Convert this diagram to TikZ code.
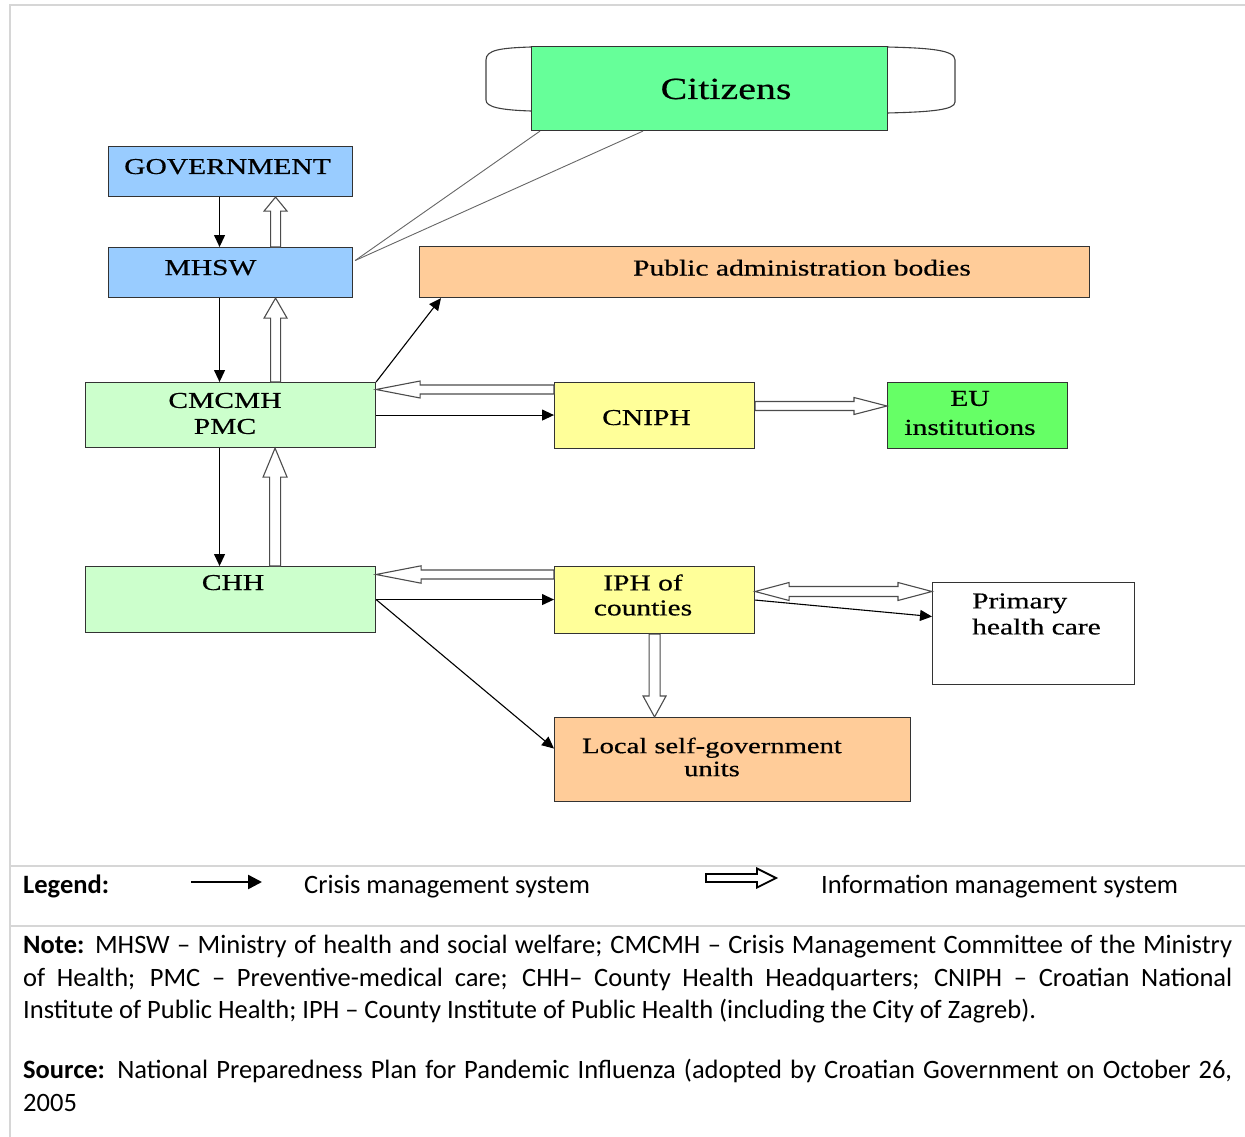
\documentclass[tikz,border=0pt]{standalone}
\usepackage{fontspec}
\usetikzlibrary{calc,arrows.meta}
\newfontfamily\dfont[FakeStretch=1.3,FakeBold=0.5]{Liberation Serif}
\newfontfamily\calfont{Carlito}
\definecolor{cBlue}{HTML}{99CCFF}
\definecolor{cPeach}{HTML}{FFCC99}
\definecolor{cMint}{HTML}{CCFFCC}
\definecolor{cYellow}{HTML}{FFFF99}
\definecolor{cGreen}{HTML}{66FF66}
\definecolor{cCit}{HTML}{66FF99}
\definecolor{frameGray}{HTML}{D6D6D6}
% hollow arrow: [style] start, end, shaft half width, head half width, head length
\newcommand\hollowarr[6][hollow]{%
  \coordinate (has) at #2;
  \coordinate (hae) at #3;
  \coordinate (hah) at ($(hae)!#6!(has)$);
  \draw[#1] ($(has)!#4!90:(hae)$) -- ($(hah)!#4!-90:(has)$) -- ($(hah)!#5!-90:(has)$)
    -- (hae) -- ($(hah)!#5!90:(has)$) -- ($(hah)!#4!90:(has)$) -- ($(has)!#4!-90:(hae)$) -- cycle;
}
\newcommand\hollowdbl[5]{%
  \coordinate (hds) at #1;
  \coordinate (hde) at #2;
  \coordinate (hd1) at ($(hds)!#5!(hde)$);
  \coordinate (hd2) at ($(hde)!#5!(hds)$);
  \draw[hollow] (hds) -- ($(hd1)!#4!90:(hde)$) -- ($(hd1)!#3!90:(hde)$) -- ($(hd2)!#3!-90:(hds)$)
    -- ($(hd2)!#4!-90:(hds)$) -- (hde) -- ($(hd2)!#4!90:(hds)$) -- ($(hd2)!#3!90:(hds)$)
    -- ($(hd1)!#3!-90:(hde)$) -- ($(hd1)!#4!-90:(hde)$) -- cycle;
}
\begin{document}
\begin{tikzpicture}[x=1pt,y=-1pt,
  box/.style={draw=black!80, line width=1.1pt, inner sep=0pt, anchor=north west},
  dtext/.style={font=\dfont\fontsize{22.7}{26}\selectfont, inner sep=0pt},
  crisis/.style={draw=black, line width=1.1pt, -{Triangle[length=12pt,width=11pt]}},
  hollow/.style={draw=black!70, line width=1.1pt, fill=white, line join=miter},
  hollowleg/.style={draw=black, line width=1.8pt, fill=white, line join=miter},
  framel/.style={draw=frameGray, line width=2pt},
  caltext/.style={font=\calfont\fontsize{26.5}{32.5}\selectfont, inner sep=0pt},
  para/.style={caltext, text width=1209pt, align=justify}
]
\useasboundingbox (0,0) rectangle (1245,1137);
% frame
\draw[framel] (10,1137) -- (10,5) -- (1245,5);
\draw[framel] (10,866) -- (1245,866);
\draw[framel] (10,926) -- (1245,926);

% citizens scroll ends
\draw[draw=black!75, line width=1.1pt] (531,47) .. controls (500,48) and (486,50) .. (486,60) -- (486,100) .. controls (486,107) and (500,110) .. (531,111);
\draw[draw=black!75, line width=1.1pt] (887,47) .. controls (930,48) and (955,50) .. (955,60) -- (955,102) .. controls (955,110) and (930,112) .. (887,113);

% boxes
\node[box, fill=cCit, minimum width=356, minimum height=84] (cit) at (531,46) {};
\node[box, fill=cBlue, minimum width=244, minimum height=50] (gov) at (108,146) {};
\node[box, fill=cBlue, minimum width=244, minimum height=50] (mhsw) at (108,247) {};
\node[box, fill=cPeach, minimum width=670, minimum height=51] (pab) at (419,246) {};
\node[box, fill=cMint, minimum width=290, minimum height=65] (cmc) at (85,382) {};
\node[box, fill=cYellow, minimum width=200, minimum height=66] (cniph) at (554,382) {};
\node[box, fill=cGreen, minimum width=180, minimum height=66] (eu) at (887,382) {};
\node[box, fill=cMint, minimum width=290, minimum height=66] (chh) at (85,566) {};
\node[box, fill=cYellow, minimum width=200, minimum height=67] (iph) at (554,566) {};
\node[box, fill=white, minimum width=202, minimum height=102] (phc) at (932,582) {};
\node[box, fill=cPeach, minimum width=356, minimum height=84] (local) at (554,717) {};

% texts
\node[font=\dfont\fontsize{30.7}{36}\selectfont, inner sep=0pt, anchor=base] (citt) at (726,99) {Citizens};
\node[dtext, anchor=base] (govt) at (227.5,174) {GOVERNMENT};
\node[dtext, anchor=base] (mhswt) at (210.5,275) {MHSW};
\node[dtext, anchor=base] (pabt) at (802,275.5) {Public administration bodies};
\node[dtext, align=center] (cmct) at (225,413.5) {CMCMH\\PMC};
\node[dtext, anchor=base] (cnipht) at (646.5,425) {CNIPH};
\node[dtext, align=center, font=\dfont\fontsize{22.7}{29}\selectfont] (eut) at (970,413) {EU\\institutions};
\node[dtext, anchor=base] (chht) at (233,590) {CHH};
\node[dtext, align=center, font=\dfont\fontsize{22.7}{25}\selectfont] (ipht) at (643,595) {IPH of\\counties};
\node[dtext, align=left, anchor=west] (phct) at (972,614) {Primary\\health care};
\node[dtext, align=center, font=\dfont\fontsize{22}{23}\selectfont] (localt) at (712,757) {Local self-government\\units};

% citizens lines
\draw[draw=black!60, line width=0.9pt] ($(cit.south west)+(9,0)$) -- ($(mhsw.east)+(2,-12)$);
\draw[draw=black!60, line width=0.9pt] ($(cit.south west)+(112,0)$) -- ($(mhsw.east)+(2,-12)$);

% crisis arrows
\draw[crisis] ($(gov.south)+(-11,0)$) -- ($(mhsw.north)+(-11,0)$);
\draw[crisis] ($(mhsw.south)+(-11,0)$) -- ($(cmc.north)+(-11,0)$);
\draw[crisis] ($(cmc.south)+(-11,0)$) -- ($(chh.north)+(-11,0)$);
\draw[crisis] (cmc.north east) -- ($(pab.south west)+(22,0)$);
\draw[crisis] (cmc.east) -- (cmc.east -| cniph.west);
\draw[crisis] (chh.east) -- (chh.east -| iph.west);
\draw[crisis] (chh.east) -- ($(local.west)+(0,-11)$);
\draw[crisis] (iph.east) -- ($(phc.west)+(0,-17)$);

% information arrows
\hollowarr{($(mhsw.north)+(45,0)$)}{($(gov.south)+(45,0)$)}{5pt}{11.5pt}{14pt}
\hollowarr{($(cmc.north)+(45,0)$)}{($(mhsw.south)+(45,0)$)}{5pt}{11.5pt}{20pt}
\hollowarr{($(chh.north)+(44.5,0)$)}{($(cmc.south)+(44.5,0)$)}{5.5pt}{12pt}{29pt}
\hollowarr{($(cniph.north west)+(0,7.5)$)}{($(cmc.north east)+(0,7.5)$)}{4.5pt}{8.5pt}{44pt}
\hollowarr{($(cniph.north east)+(0,24)$)}{($(eu.north west)+(0,24)$)}{4.5pt}{8.5pt}{33pt}
\hollowarr{($(iph.north west)+(0,8.5)$)}{($(chh.north east)+(0,8.5)$)}{4.5pt}{8.7pt}{45pt}
\hollowdbl{($(iph.north east)+(0,25.5)$)}{($(phc.north west)+(0,9.5)$)}{5pt}{9pt}{34pt}
\hollowarr{(iph.south)}{(local.north -| iph.south)}{5.5pt}{11.5pt}{21pt}

% legend
\node[caltext, anchor=base west] (legt) at (23,893.5) {\textbf{Legend:}};
\coordinate (lga) at (191,882);
\coordinate (lgb) at (262,882);
\draw[draw=black, line width=2.5pt, -{Triangle[length=14pt,width=14pt]}] (lga) -- (lgb);
\node[caltext, anchor=base west] (cmst) at (304,893.5) {Crisis management system};
\coordinate (lha) at (706,878);
\coordinate (lhb) at (776,878);
\hollowarr[hollowleg]{(lha)}{(lhb)}{4pt}{9.5pt}{19pt}
\node[caltext, anchor=base west] (imst) at (821,893.5) {Information management system};

% note and source
\node[para, anchor=north west] (note) at (23,935) {\hyphenpenalty=10000\exhyphenpenalty=10000\textbf{Note:} MHSW – Ministry of health and social welfare; CMCMH – Crisis Management Committee of the Ministry\linebreak of Health; PMC – Preventive-medical care; CHH– County Health Headquarters; CNIPH – Croatian National\linebreak Institute of Public Health; IPH – County Institute of Public Health (including the City of Zagreb).};
\node[para, anchor=north west] (src) at (23,1059) {\hyphenpenalty=10000\exhyphenpenalty=10000\textbf{Source:} National Preparedness Plan for Pandemic Influenza (adopted by Croatian Government on October 26,\linebreak 2005};
\end{tikzpicture}
\end{document}
